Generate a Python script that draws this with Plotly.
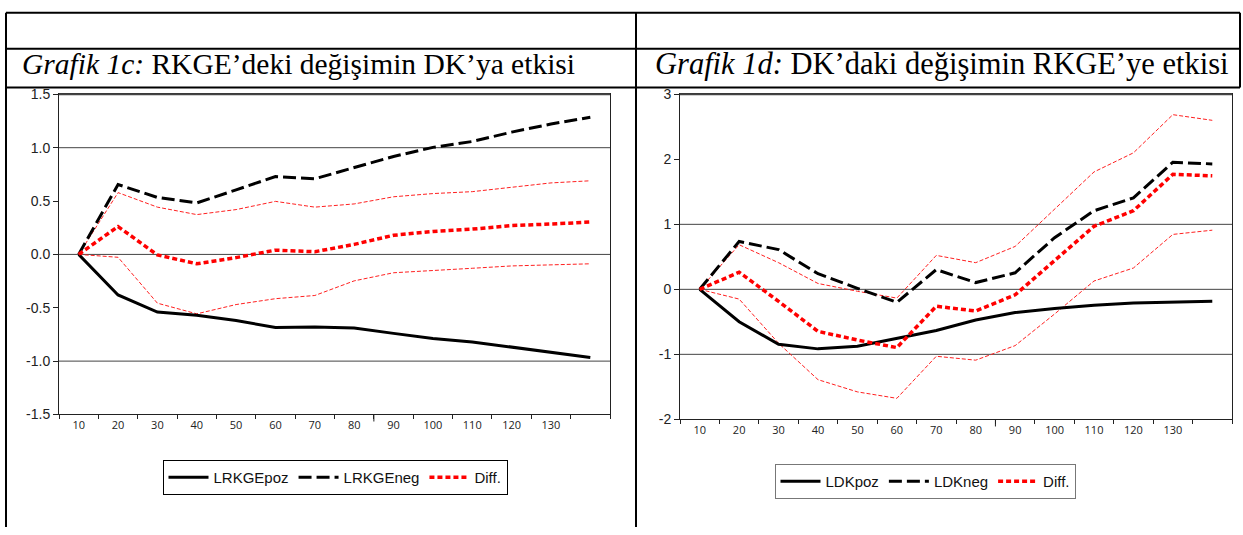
import plotly.graph_objects as go

W, H = 1243, 535

# ── Data ────────────────────────────────────────────────────────────────────
periods = [10, 20, 30, 40, 50, 60, 70, 80, 90, 100, 110, 120, 130, 140]
x_tick_vals = [10, 20, 30, 40, 50, 60, 70, 80, 90, 100, 110, 120, 130]
x_tick_text = ["10", "20", "30", "40", "50", "60", "70", "80", "90", "100", "110", "120", "130"]
x_bounds = [5, 15, 25, 35, 45, 55, 65, 75, 85, 95, 105, 115, 125, 135, 145]

# Grafik 1c: RKGE -> DK
lrkge_poz = [0, -0.38, -0.54, -0.57, -0.62, -0.685, -0.68, -0.69, -0.74, -0.787, -0.82, -0.87, -0.92, -0.966]
lrkge_neg = [0, 0.655, 0.534, 0.482, 0.605, 0.73, 0.709, 0.815, 0.918, 1.003, 1.058, 1.146, 1.222, 1.285]
diff_1c = [0, 0.261, -0.005, -0.088, -0.03, 0.04, 0.025, 0.094, 0.179, 0.215, 0.237, 0.27, 0.285, 0.303]
diff_1c_up = [0, 0.579, 0.443, 0.373, 0.42, 0.497, 0.443, 0.473, 0.54, 0.57, 0.588, 0.63, 0.67, 0.69]
diff_1c_lo = [0, -0.027, -0.457, -0.557, -0.47, -0.415, -0.385, -0.248, -0.172, -0.148, -0.13, -0.108, -0.097, -0.088]
y_1c_vals = [-1.5, -1.0, -0.5, 0.0, 0.5, 1.0, 1.5]
y_1c_text = ["-1.5", "-1.0", "-0.5", "0.0", "0.5", "1.0", "1.5"]

# Grafik 1d: DK -> RKGE
ldk_poz = [0, -0.498, -0.846, -0.916, -0.876, -0.757, -0.633, -0.473, -0.358, -0.294, -0.244, -0.209, -0.194, -0.185]
ldk_neg = [0, 0.736, 0.612, 0.24, 0.015, -0.2, 0.303, 0.104, 0.254, 0.795, 1.209, 1.407, 1.955, 1.93]
diff_1d = [0, 0.263, -0.185, -0.647, -0.78, -0.896, -0.26, -0.334, -0.085, 0.45, 0.97, 1.209, 1.77, 1.746]
diff_1d_up = [0, 0.686, 0.41, 0.09, -0.03, -0.135, 0.522, 0.41, 0.66, 1.233, 1.806, 2.1, 2.687, 2.6]
diff_1d_lo = [0, -0.15, -0.83, -1.39, -1.578, -1.677, -1.03, -1.09, -0.866, -0.38, 0.128, 0.328, 0.845, 0.91]
y_1d_vals = [-2, -1, 0, 1, 2, 3]
y_1d_text = ["-2", "-1", "0", "1", "2", "3"]


def px(x):
    return x / W


def py(y):
    return 1 - y / H


fig = go.Figure()


def add_panel(xr, yr, leg, poz, neg, diff, up, lo, names):
    # confidence bands (thin red dashed), no legend
    for band in (up, lo):
        fig.add_trace(go.Scatter(
            x=periods, y=band, mode="lines", xaxis=xr, yaxis=yr,
            line=dict(color="#ff2020", width=1, dash="4px,2px"),
            showlegend=False, hoverinfo="skip",
        ))
    fig.add_trace(go.Scatter(
        x=periods, y=poz, mode="lines", name=names[0], xaxis=xr, yaxis=yr,
        line=dict(color="black", width=3), legend=leg,
    ))
    fig.add_trace(go.Scatter(
        x=periods, y=neg, mode="lines", name=names[1], xaxis=xr, yaxis=yr,
        line=dict(color="black", width=3, dash="13px,5px"), legend=leg,
    ))
    fig.add_trace(go.Scatter(
        x=periods, y=diff, mode="lines", name=names[2], xaxis=xr, yaxis=yr,
        line=dict(color="red", width=3.5, dash="5px,3px"), legend=leg,
    ))


add_panel("x", "y", "legend", lrkge_poz, lrkge_neg, diff_1c, diff_1c_up, diff_1c_lo,
          ["LRKGEpoz", "LRKGEneg", "Diff."])
add_panel("x2", "y2", "legend2", ldk_poz, ldk_neg, diff_1d, diff_1d_up, diff_1d_lo,
          ["LDKpoz", "LDKneg", "Diff."])

x_common = dict(
    range=[5, 145], tickmode="array", tickvals=x_tick_vals, ticktext=x_tick_text,
    ticks="", showgrid=False, zeroline=False,
    showline=True, linecolor="#222", linewidth=1, mirror=True,
    tickfont=dict(family="Open Sans, Liberation Sans", size=11, color="#222"),
    minor=dict(tickmode="array", tickvals=x_bounds, ticks="outside", ticklen=4,
               tickcolor="#222", tickwidth=1, showgrid=False),
)
y_common = dict(
    tickmode="array", ticks="outside", ticklen=5, tickcolor="#222",
    showgrid=False, zeroline=False,
    showline=True, linecolor="#222", linewidth=1, mirror=True,
    tickfont=dict(family="Liberation Sans, Arial", size=14, color="#222"),
)
legend_common = dict(
    orientation="h", xanchor="center", yanchor="middle", borderwidth=1, bgcolor="white",
    itemwidth=40,
    font=dict(family="Liberation Sans, Arial", size=15, color="#111"),
)

fig.update_layout(
    width=W, height=H,
    margin=dict(l=0, r=0, t=0, b=0),
    paper_bgcolor="white", plot_bgcolor="white",
    xaxis=dict(domain=[px(59), px(610)], anchor="y", **x_common),
    yaxis=dict(domain=[py(419), py(89)], anchor="x", range=[-1.5, 1.5],
               tickvals=y_1c_vals, ticktext=y_1c_text, **y_common),
    xaxis2=dict(domain=[px(680), px(1232)], anchor="y2", **x_common),
    yaxis2=dict(domain=[py(424), py(89)], anchor="x2", range=[-2, 3],
                tickvals=y_1d_vals, ticktext=y_1d_text, **y_common),
    legend=dict(x=px(335), y=py(484), bordercolor="black", **legend_common),
    legend2=dict(x=px(925), y=py(488), bordercolor="#777", **legend_common),
    showlegend=True,
)

# Reference lines at -1, 0, 1 inside each panel, heavier top frame,
# and the longer tick EViews puts at the 80|90 boundary
for xr, yr in (("x", "y"), ("x2", "y2")):
    for v in (-1, 0, 1):
        fig.add_shape(type="line", xref=f"{xr} domain", yref=yr, x0=0, x1=1, y0=v, y1=v,
                      line=dict(color="#444", width=1), layer="below")
    fig.add_shape(type="line", xref=f"{xr} domain", yref=f"{yr} domain", x0=0, x1=1, y0=1, y1=1,
                  line=dict(color="#444", width=2))
    fig.add_shape(type="line", xref=xr, yref=f"{yr} domain", x0=85, x1=85, y0=0, y1=-0.022,
                  line=dict(color="#222", width=1))

# Table borders of the surrounding document
table_lines = [
    (6, 5, 1240, 5), (6, 42, 1240, 42), (6, 82, 1240, 82),
    (6, 5, 6, 535), (636, 5, 636, 535), (1240, 5, 1240, 82),
]
for x0, y0, x1, y1 in table_lines:
    fig.add_shape(type="line", xref="paper", yref="paper",
                  x0=px(x0), y0=py(y0), x1=px(x1), y1=py(y1),
                  line=dict(color="black", width=2))

titles = [
    (20, 29.5, "<i>Grafik 1c:</i> RKGE’deki değişimin DK’ya etkisi"),
    (653, 30.5, "<i>Grafik 1d:</i> DK’daki değişimin RKGE’ye etkisi"),
]
for x0, size, text in titles:
    fig.add_annotation(text=text, xref="paper", yref="paper", x=px(x0), y=py(58),
                       xanchor="left", yanchor="middle", showarrow=False,
                       font=dict(family="Liberation Serif, Times New Roman", size=size, color="black"))

fig.write_html("out.html", post_script="document.body.style.margin='0px';",
               config={"displayModeBar": False})
